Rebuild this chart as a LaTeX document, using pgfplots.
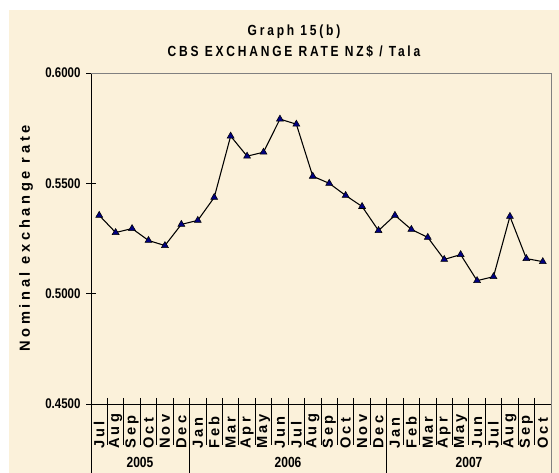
\documentclass[border=0pt]{standalone}
\usepackage{fontspec}
\setmainfont{Liberation Sans}[FakeStretch=0.82]
\newfontfamily\spaced{Liberation Sans}[LetterSpace=19,FakeStretch=0.82]
\newfontfamily\rotspaced{Liberation Sans}[LetterSpace=22]
\newfontfamily\ylabfont{Liberation Sans}[LetterSpace=25]
\usepackage{pgfplots}
\pgfplotsset{compat=1.18}
\definecolor{cream}{HTML}{FBF1DA}
\definecolor{navy}{HTML}{000080}
\begin{document}
\begin{tikzpicture}
\path[use as bounding box, fill=white] (-68.25pt,-51.75pt) rectangle (351pt,303pt);
\fill[cream] (-61.5pt,-51.75pt) rectangle (351pt,295.5pt);
\begin{axis}[scale only axis, width=345pt, height=248.25pt,
  at={(0,0)}, anchor=south west,
  xmin=-0.5, xmax=27.5, ymin=0.45, ymax=0.6,
  axis line style={draw=none},
  /pgf/number format/assume math mode=true,
  xtick={0,...,27},
  xticklabels={Jul,Aug,Sep,Oct,Nov,Dec,Jan,Feb,Mar,Apr,May,Jun,Jul,Aug,Sep,Oct,Nov,Dec,Jan,Feb,Mar,Apr,May,Jun,Jul,Aug,Sep,Oct},
  x tick style={draw=none},
  xticklabel style={font=\rotspaced\bfseries\fontsize{11}{12}\selectfont, rotate=90, anchor=west, inner sep=0pt},
  xticklabel shift=30.5pt,
  ytick pos=left,
  ytick={0.45,0.5,0.55,0.6},
  yticklabel style={/pgf/number format/.cd, fixed, fixed zerofill, precision=4, /tikz/.cd, font=\bfseries\fontsize{10.5}{12}\selectfont},
  y tick style={black, line width=0.6pt},
  tick align=center, major tick length=6.75pt,
  yticklabel shift=1pt,
]
\addplot[black, line width=0.8pt, mark=triangle*, mark size=3pt, mark options={fill=navy, draw=black, line width=0.4pt}] coordinates {
(0,0.5355) (1,0.5277) (2,0.5295) (3,0.5241) (4,0.5218) (5,0.5314)
(6,0.5332) (7,0.5436) (8,0.5714) (9,0.5623) (10,0.5641) (11,0.5791)
(12,0.5768) (13,0.5532) (14,0.5500) (15,0.5445) (16,0.5395) (17,0.5286)
(18,0.5355) (19,0.5291) (20,0.5255) (21,0.5155) (22,0.5177) (23,0.5059)
(24,0.5077) (25,0.5350) (26,0.5159) (27,0.5145)};
\end{axis}
\draw[black, line width=0.7pt] (0,-51.75pt) -- (0,248.25pt);
\draw[black, line width=0.7pt] (0,0) -- (345pt,0);
\draw[gray, line width=0.6pt] (0,248.25pt) -- (345pt,248.25pt);
\draw[gray, line width=0.6pt] (345pt,-51.75pt) -- (345pt,248.25pt);
\foreach \i in {1,...,27} \draw[black, line width=0.6pt] (\i*12.3214pt,4.5pt) -- (\i*12.3214pt,-30.75pt);
\draw[black, line width=0.6pt] (73.93pt,0) -- (73.93pt,-51.75pt);
\draw[black, line width=0.6pt] (221.79pt,0) -- (221.79pt,-51.75pt);
\node[font=\bfseries\fontsize{11}{12}\selectfont] at (36.75pt,-43.5pt) {2005};
\node[font=\bfseries\fontsize{11}{12}\selectfont] at (147.75pt,-43.5pt) {2006};
\node[font=\bfseries\fontsize{11}{12}\selectfont] at (283.5pt,-43.5pt) {2007};
\node[rotate=90, font=\ylabfont\bfseries\fontsize{11}{12}\selectfont] at (-48.75pt,124.1pt) {Nominal exchange rate};
\node[font=\spaced\bfseries\fontsize{11}{12}\selectfont] at (152.25pt,279pt) {Graph 15(b)};
\node[font=\spaced\bfseries\fontsize{11}{12}\selectfont] at (152.25pt,264pt) {CBS EXCHANGE RATE NZ\$ / Tala};
\end{tikzpicture}
\end{document}
